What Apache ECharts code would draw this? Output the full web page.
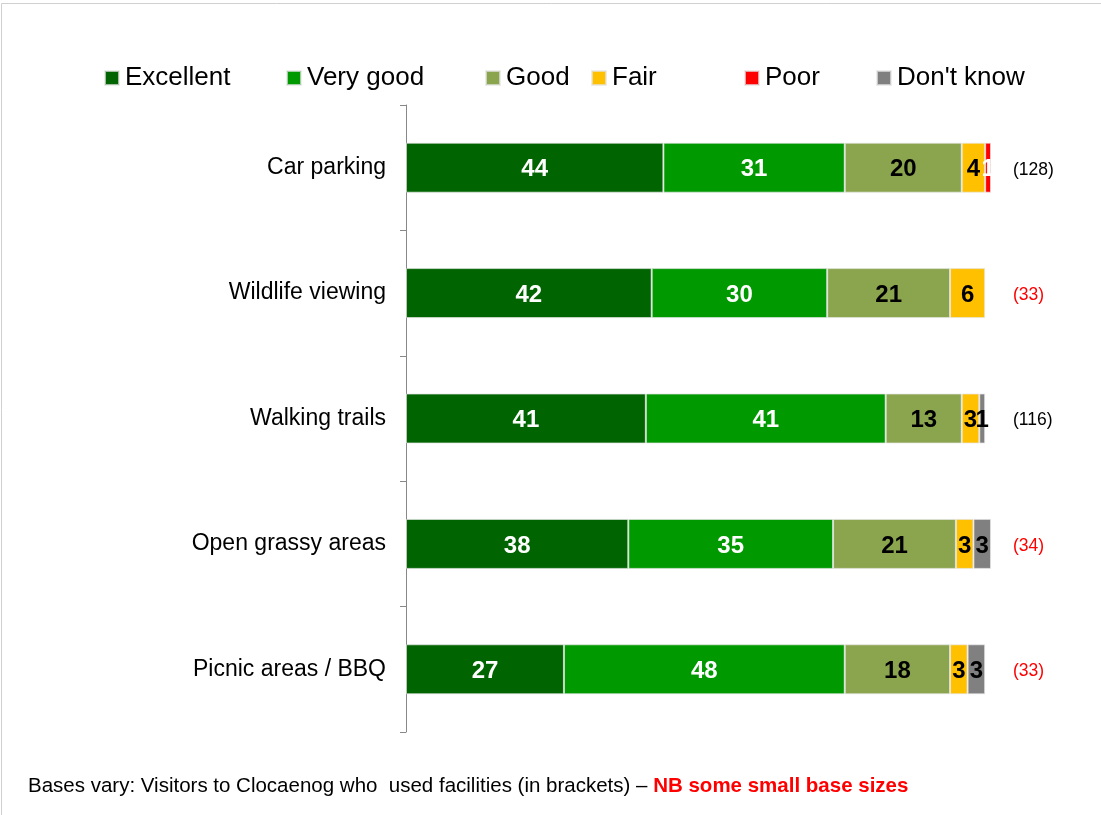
<!DOCTYPE html>
<html>
<head>
<meta charset="utf-8">
<title>Facility ratings</title>
<script src="https://cdn.jsdelivr.net/npm/echarts@6/dist/echarts.min.js"></script>
<style>
  html, body { margin: 0; padding: 0; background: #fff; }
  #chart { width: 1101px; height: 815px; }
</style>
</head>
<body>
<div id="chart"></div>
<script>
// Facilities, top to bottom
const categories = ['Car parking', 'Wildlife viewing', 'Walking trails', 'Open grassy areas', 'Picnic areas / BBQ'];
// Number of visitors who used each facility
const bases = [128, 33, 116, 34, 33];

// Rating shares (%) per facility
const excellent = [44, 42, 41, 38, 27];
const veryGood  = [31, 30, 41, 35, 48];
const good      = [20, 21, 13, 21, 18];
const fair      = [4, 6, 3, 3, 3];
const poor      = [1, 0, 0, 0, 0];
const dontKnow  = [0, 0, 1, 3, 3];

const ratingNames = ['Excellent', 'Very good', 'Good', 'Fair', 'Poor', "Don't know"];
const ratingValues = [excellent, veryGood, good, fair, poor, dontKnow];
const ratingColors = ['#006400', '#009900', '#8BA54E', '#FFC000', '#FF0000', '#808080'];
const labelColors  = ['#fff', '#fff', '#000', '#000', '#fff', '#000'];

const SMALL_BASE = 50;
const FONT = '"Liberation Sans", Arial, sans-serif';

const chart = echarts.init(document.getElementById('chart'), null, { renderer: 'canvas' });

const series = ratingNames.map((name, i) => ({
  name,
  type: 'bar',
  stack: 'total',
  barWidth: 50,
  data: ratingValues[i].map(v => (v > 0 ? v : null)),
  itemStyle: { color: ratingColors[i], borderColor: 'rgba(230,230,230,0.7)', borderWidth: 1 },
  label: {
    show: true,
    position: 'inside',
    offset: [0, 2],
    color: labelColors[i],
    fontFamily: FONT,
    fontWeight: 'bold',
    fontSize: 24,
    formatter: p => (p.value ? String(p.value) : '')
  },
  emphasis: { disabled: true }
}));

// one legend per entry so each sits in its own slot
const legendLefts = [104, 286, 485, 591, 744, 876];
const legends = ratingNames.map((name, i) => ({
  data: [name],
  left: legendLefts[i],
  top: 63,
  padding: 0,
  itemWidth: 14,
  itemHeight: 14,
  icon: 'rect',
  selectedMode: false,
  textStyle: { fontFamily: FONT, fontSize: 26, color: '#000', lineHeight: 28, padding: [2, 0, 0, 1] }
}));

chart.setOption({
  animation: false,
  backgroundColor: '#fff',
  legend: legends,
  grid: { left: 406, right: 110, top: 105, bottom: 83 },
  xAxis: {
    type: 'value',
    min: 0,
    max: 100,
    show: false
  },
  yAxis: [
    {
      type: 'category',
      data: categories,
      inverse: true,
      axisLine: { show: true, lineStyle: { color: '#888', width: 1 } },
      axisTick: { show: true, length: 6, lineStyle: { color: '#888' } },
      axisLabel: { margin: 20, color: '#000', fontFamily: FONT, fontSize: 23, padding: [6, 0, 0, 0] },
      splitLine: { show: false }
    },
    {
      type: 'category',
      data: bases.map(b => '(' + b + ')'),
      inverse: true,
      position: 'right',
      axisLine: { show: false },
      axisTick: { show: false },
      axisLabel: {
        margin: 22,
        fontFamily: FONT,
        fontSize: 17.5,
        padding: [4, 0, 0, 0],
        formatter: (val, idx) => (bases[idx] < SMALL_BASE ? '{s|' + val + '}' : '{n|' + val + '}'),
        rich: {
          n: { color: '#000', fontFamily: FONT, fontSize: 17.5 },
          s: { color: '#FF0000', fontFamily: FONT, fontSize: 17.5 }
        }
      }
    }
  ],
  series,
  graphic: [
    {
      type: 'rect',
      shape: { x: 1.5, y: 3.5, width: 1110, height: 830 },
      style: { fill: 'none', stroke: '#d0d0d0', lineWidth: 1 },
      silent: true
    },
    {
      type: 'text',
      left: 28,
      top: 776,
      style: {
        text: 'Bases vary: Visitors to Clocaenog who  used facilities (in brackets) – {b|NB some small base sizes}',
        fontFamily: FONT,
        fontSize: 20.5,
        fill: '#000',
        rich: {
          b: { fontFamily: FONT, fontSize: 20.5, fontWeight: 'bold', fill: '#FF0000' }
        }
      }
    }
  ]
});
</script>
</body>
</html>
